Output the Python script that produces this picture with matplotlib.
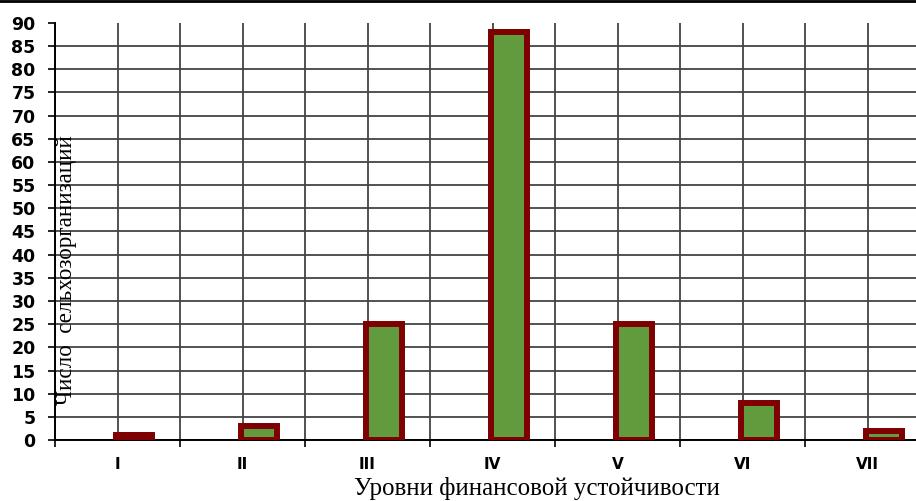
import matplotlib.pyplot as plt

levels = ["I", "II", "III", "IV", "V", "VI", "VII"]
counts = [1, 3, 25, 88, 25, 8, 2]

fig = plt.figure(figsize=(9.16, 5.01), dpi=100)
ax = fig.add_axes([55 / 916, 61 / 501, 875 / 916, 417 / 501])

x = list(range(len(levels)))
ax.bar([i - 0.012 for i in x], counts, width=0.29, align="edge", color="#629b3e",
       edgecolor="#7f0000", linewidth=4.3, zorder=3)

ax.set_xlim(-0.5, len(levels) - 0.5)
ax.set_ylim(0, 90)
ax.set_yticks(range(0, 91, 5))

# boundaries between levels get tick marks, level names sit in the middle
ax.set_xticks([i - 0.5 for i in range(len(levels) + 1)])
ax.set_xticklabels([])
ax.set_xticks(x, minor=True)
ax.set_xticklabels(levels, minor=True, fontweight="bold", fontsize=11)
ax.tick_params(axis="x", which="major", length=5, width=1.2, color="black")
ax.tick_params(axis="x", which="minor", length=0, pad=12)
ax.tick_params(axis="y", length=5, width=1.2, labelsize=12.5, pad=9)
for lab in ax.get_yticklabels():
    lab.set_fontweight("bold")

ax.grid(axis="x", which="both", color="#222222", linewidth=1.1, zorder=1)
ax.grid(axis="y", which="major", color="#444444", linewidth=1.3, zorder=1)
ax.yaxis.get_gridlines()[-1].set_visible(False)
ax.set_axisbelow(True)

for side in ("top", "right"):
    ax.spines[side].set_visible(False)
ax.spines["left"].set_linewidth(1.4)
ax.spines["bottom"].set_linewidth(1.4)

fig.text(67 / 916, 1 - 270 / 501, "Число  сельхозорганизаций",
         rotation=90, ha="center", va="center",
         family="Liberation Serif", fontsize=16.6)
fig.text(537 / 916, 1 / 501, "Уровни финансовой устойчивости",
         ha="center", va="bottom", family="Liberation Serif", fontsize=18)

fig.add_artist(plt.Line2D([0, 1], [1 - 1 / 501, 1 - 1 / 501],
                          transform=fig.transFigure, color="black", linewidth=2))

fig.savefig("out.png", dpi=100)
